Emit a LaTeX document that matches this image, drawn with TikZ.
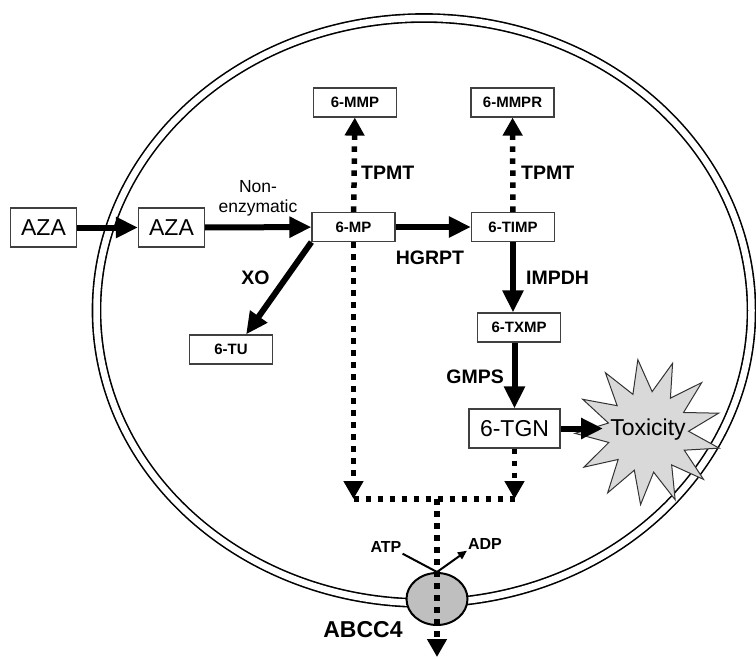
\documentclass[tikz,border=0pt]{standalone}
\usepackage{fontspec}
\setmainfont{Liberation Sans}
\usetikzlibrary{arrows.meta, positioning, shapes.geometric, calc}

\begin{document}
\begin{tikzpicture}[
    x=1pt, y=-1pt,
    box/.style={rectangle, draw=black!75, line width=1.2pt, fill=white, minimum width=83pt, minimum height=29pt, inner sep=0pt, font=\fontsize{15}{17}\selectfont\bfseries},
    bigbox/.style={rectangle, draw=black!75, line width=1.2pt, fill=white, minimum height=39pt, inner xsep=9pt, inner ysep=0pt, font=\fontsize{23}{26}\selectfont},
    enz/.style={inner sep=1pt, font=\fontsize{19.5}{22}\selectfont\bfseries},
    note/.style={inner sep=1pt, align=center, font=\fontsize{17.5}{20}\selectfont},
    nucl/.style={inner sep=1pt, font=\fontsize{16}{18}\selectfont\bfseries},
    starburst/.style={star, star points=13, star point ratio=1.8, minimum size=146pt, draw=black!80, line width=1pt, fill=black!15, shape border rotate=8},
    pump/.style={ellipse, draw=black, line width=2pt, fill=black!25, minimum width=61pt, minimum height=52pt, inner sep=0pt},
    fat/.style={-{Triangle[length=22pt, width=20pt]}, line width=6pt},
    dots/.style={line width=5.5pt, dash pattern=on 5.5pt off 6.5pt},
    dotarrow/.style={dots, -{Triangle[length=18pt, width=19pt]}},
    cell/.style={line width=1.6pt, double=white, double distance=6.5pt},
]
\useasboundingbox (0,0) rectangle (756,659);

% cell membrane
\draw[cell] (424,310.5) ellipse [x radius=327.5, y radius=292.5];

% metabolites
\node[bigbox, minimum width=66pt] (aza1) at (43.5,227.5) {AZA};
\node[bigbox, minimum width=66pt] (aza2) at (171.5,227.5) {AZA};
\node[box] (mp) at (353.5,227) {6-MP};
\node[box] (timp) at (513,227) {6-TIMP};
\node[box] (mmp) at (355,102.5) {6-MMP};
\node[box] (mmpr) at (512.5,102.5) {6-MMPR};
\node[box] (tu) at (231,349.5) {6-TU};
\node[box] (txmp) at (519,327.5) {6-TXMP};
\node[bigbox, minimum width=91pt] (tgn) at (514.5,428.5) {6-TGN};
\node[starburst] (tox) at (648,432) {};
\node[font=\fontsize{23}{26}\selectfont] (toxtxt) at (648,430) {Toxicity};

% enzymes
\node[note] (nonenz) at (258,198) {Non-\\enzymatic};
\node[enz, anchor=west] (tpmt1) at (360,173) {TPMT};
\node[enz, anchor=west] (tpmt2) at (520,173) {TPMT};
\node[enz] (hgrpt) at (430,258) {HGRPT};
\node[enz] (xo) at (255.5,278) {XO};
\node[enz, anchor=west] (impdh) at (525,278) {IMPDH};
\node[enz, anchor=east] (gmps) at (505,377) {GMPS};

% transporter
\node[pump] (abc) at (437,599) {};
\node[nucl] (atp) at (386,547) {ATP};
\node[nucl] (adp) at (485,544) {ADP};
\node[font=\fontsize{23}{26}\selectfont\bfseries] (abclbl) at (363,630) {ABCC4};
\coordinate (merge) at (437,499);
\coordinate (efflux) at (437,657);

% pathway
\draw[fat] (aza1) -- (aza2);
\draw[fat] (aza2) -- (mp);
\draw[fat] (mp) -- (timp);
\draw[fat] (mp.south west) -- (tu.45);
\draw[fat] (timp) -- (timp |- txmp.north);
\draw[fat] (txmp.south -| tgn) -- (tgn);
\draw[fat, shorten >=45pt] (tgn.east) -- (tgn.east -| tox);

% methylation and efflux
\draw[dotarrow] (mp) -- (mmp);
\draw[dotarrow] (timp) -- (mmpr);
\draw[dotarrow] (mp.south) -- (mp.south |- merge);
\draw[dotarrow] (tgn.south) -- (tgn.south |- merge);
\draw[dots] (mp.south |- merge) -- (tgn.south |- merge);
\draw[dotarrow] (merge) -- (efflux);
\draw[line width=2pt, -{Triangle[length=9pt, width=8pt]}] (atp.south east) -- (abc.north) -- (adp.south west);
\end{tikzpicture}
\end{document}
